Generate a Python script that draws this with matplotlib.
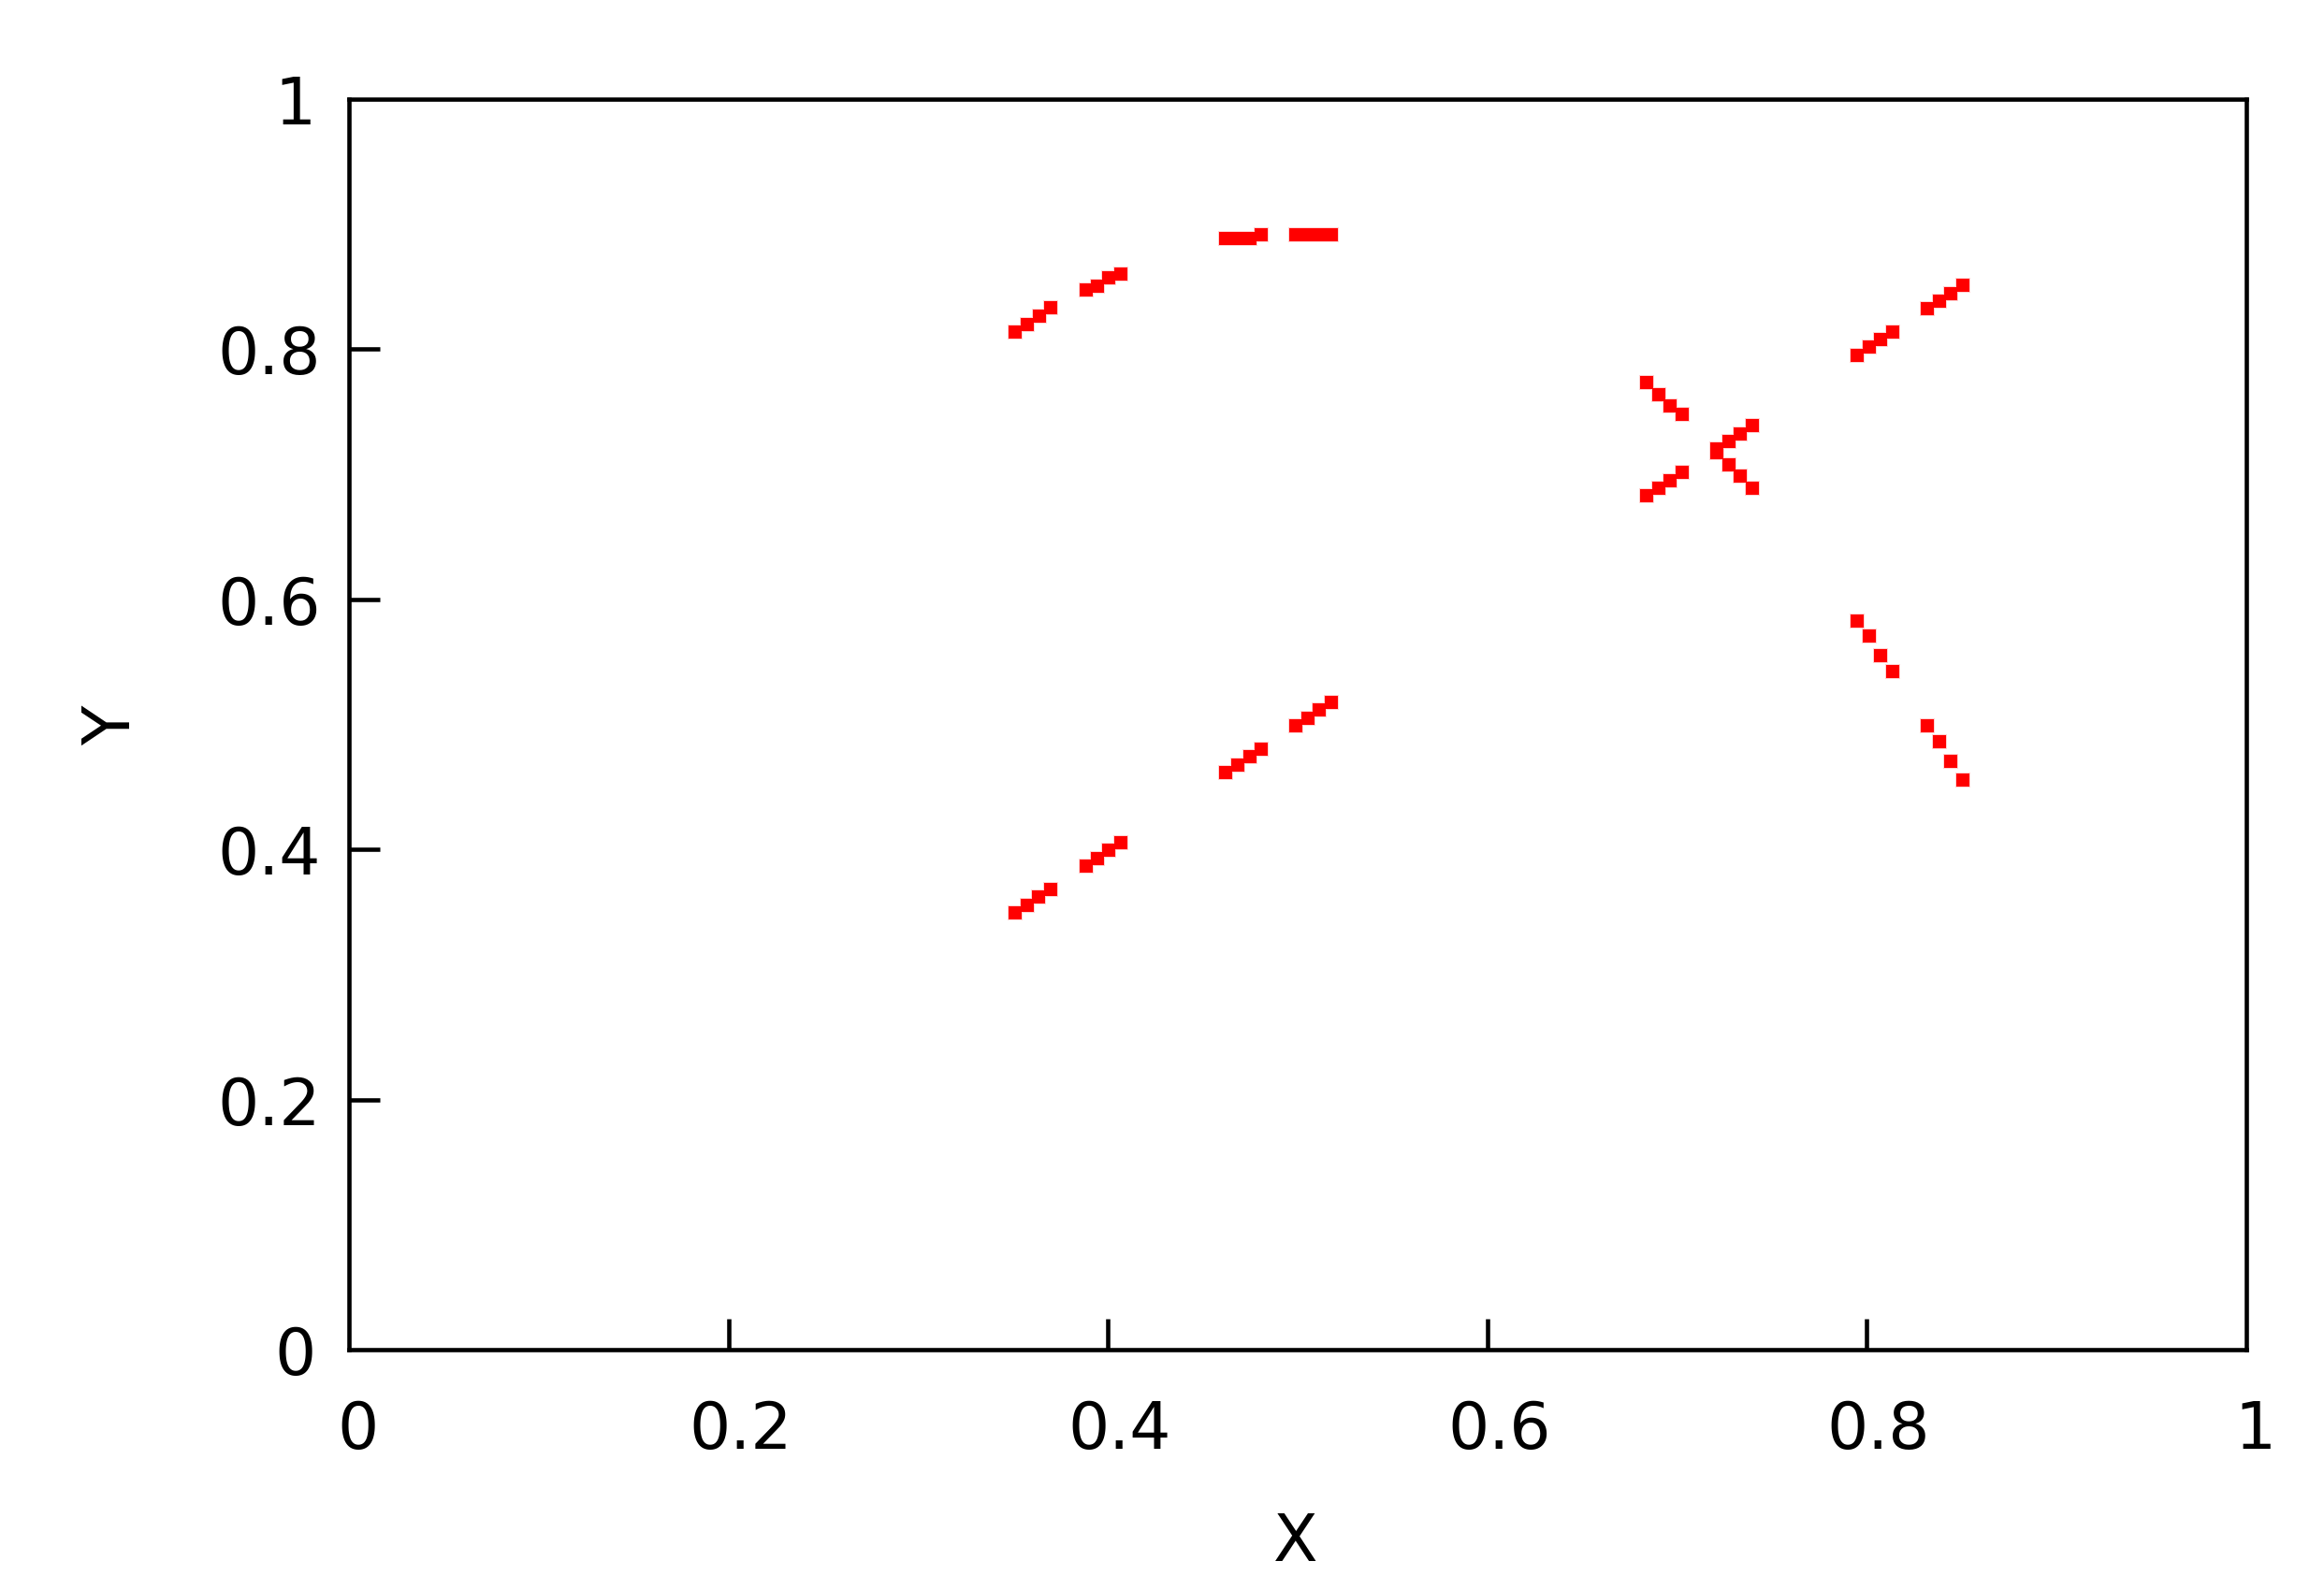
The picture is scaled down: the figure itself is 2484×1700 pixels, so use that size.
import matplotlib
matplotlib.use("Agg")
from matplotlib import pyplot as plt
from matplotlib.transforms import ScaledTranslation

# Upper arc: four short runs of four dots each
arc_x = [0.3512, 0.3575, 0.3637, 0.3700,
         0.3883, 0.3944, 0.4005, 0.4066,
         0.4622, 0.4683, 0.4746, 0.4808,
         0.4992, 0.5053, 0.5115, 0.5176]
arc_y = [0.8137, 0.8199, 0.8264, 0.8332,
         0.8474, 0.8504, 0.8569, 0.8604,
         0.8882, 0.8883, 0.8885, 0.8915,
         0.8913, 0.8913, 0.8913, 0.8913]

# Rising runs that sit on the diagonal
diag_x = [0.3512, 0.3573, 0.3635, 0.3696,
          0.3883, 0.3944, 0.4005, 0.4066,
          0.4622, 0.4683, 0.4746, 0.4806,
          0.4992, 0.5053, 0.5115, 0.5176,
          0.6841, 0.6902, 0.6964, 0.7025,
          0.7210, 0.7272, 0.7334, 0.7395,
          0.7950, 0.8011, 0.8073, 0.8134,
          0.8320, 0.8381, 0.8443, 0.8504]
diag_y = [0.3491, 0.3555, 0.3618, 0.3680,
          0.3867, 0.3927, 0.3992, 0.4054,
          0.4615, 0.4677, 0.4740, 0.4802,
          0.4989, 0.5051, 0.5114, 0.5176,
          0.6826, 0.6889, 0.6951, 0.7013,
          0.7200, 0.7263, 0.7325, 0.7387,
          0.7951, 0.8015, 0.8077, 0.8140,
          0.8322, 0.8384, 0.8447, 0.8509]

# Falling runs on the right-hand side
fall_x = [0.6841, 0.6902, 0.6964, 0.7025,
          0.7210, 0.7272, 0.7334, 0.7395,
          0.7950, 0.8011, 0.8073, 0.8134,
          0.8320, 0.8381, 0.8443, 0.8504]
fall_y = [0.7731, 0.7636, 0.7544, 0.7481,
          0.7171, 0.7076, 0.6984, 0.6889,
          0.5829, 0.5704, 0.5549, 0.5425,
          0.4989, 0.4864, 0.4707, 0.4553]

ticks = [0, 0.2, 0.4, 0.6, 0.8, 1]
tick_labels = ["0", "0.2", "0.4", "0.6", "0.8", "1"]

DPI = 100
FONT_SIZE = 50
LINE_W = 3.3
DOT_COLOR = "#ff0000"
HALO_COLOR = "#ffd2d2"
# gnuplot places tick labels using a fixed per-character width estimate
CHAR_W = 30.5  # pixels

plt.rcParams["font.family"] = ["DejaVu Sans"]

fig = plt.figure(figsize=(24.84, 17.0), dpi=DPI)
ax = fig.add_axes([0.1502, 0.1512, 0.8164, 0.7865])


def px_shift(dx, dy):
    """Offset transform given in output pixels."""
    return ScaledTranslation(dx / DPI, dy / DPI, fig.dpi_scale_trans)


# Soft pink rim first, then the solid red dots on top
series = ((arc_x, arc_y), (diag_x, diag_y), (fall_x, fall_y))
for xs, ys in series:
    ax.plot(xs, ys, linestyle="none", marker="s", markersize=12.2,
            markerfacecolor=HALO_COLOR, markeredgewidth=0)
for xs, ys in series:
    ax.plot(xs, ys, linestyle="none", marker="s", markersize=10.2,
            markerfacecolor=DOT_COLOR, markeredgewidth=0)

ax.set_xlim(0, 1)
ax.set_ylim(0, 1)
# end ticks fall on the border, so only the inner ones get a mark
ax.set_xticks(ticks[1:-1])
ax.set_yticks(ticks[1:-1])

# gnuplot look: inward ticks, no mirrored ticks on top/right
ax.tick_params(axis="both", direction="in", length=24, width=LINE_W,
               colors="black", labelbottom=False, labelleft=False)
for spine in ax.spines.values():
    spine.set_linewidth(LINE_W)
    spine.set_color("black")

# Tick labels drawn by hand so they sit where gnuplot put them
for t, lab in zip(ticks, tick_labels):
    n = len(lab)
    ax.text(t, 0, lab, fontsize=FONT_SIZE, ha="left", va="baseline",
            transform=ax.get_xaxis_transform() + px_shift(-n * CHAR_W / 2 + 3, -106))
    ax.text(0, t, lab, fontsize=FONT_SIZE, ha="left", va="baseline",
            transform=ax.get_yaxis_transform() + px_shift(-49 - n * CHAR_W, -27))

ax.set_xlabel("X", fontsize=FONT_SIZE)
ax.set_ylabel("Y", fontsize=FONT_SIZE)
ax.xaxis.set_label_coords(0.499, -0.169)
ax.yaxis.set_label_coords(-0.125, 0.499)
ax.xaxis.label.set_va("baseline")
ax.yaxis.label.set_va("center")

fig.savefig("out.png", dpi=DPI, facecolor="white")
plt.close(fig)
